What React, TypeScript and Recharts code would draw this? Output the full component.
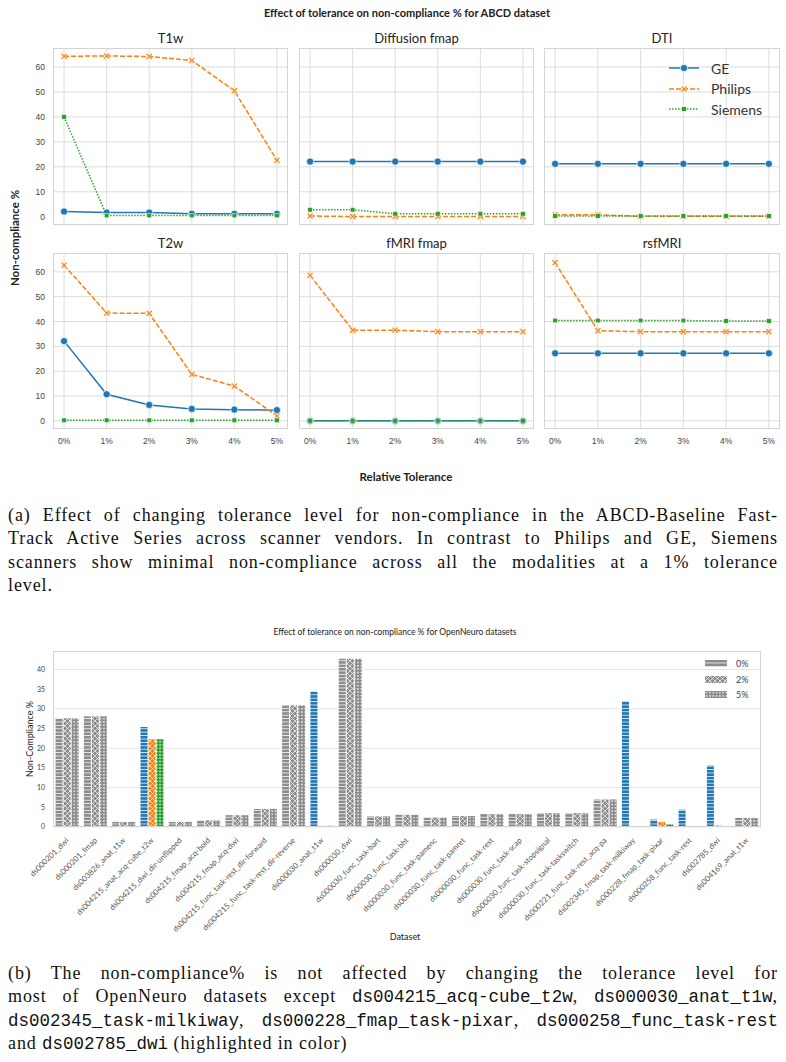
import React from 'react'
import { LineChart, Line, XAxis, YAxis, CartesianGrid, BarChart, Bar, Cell } from 'recharts'

// ---- top figure: ABCD dataset ----
const tolerances = [0, 1, 2, 3, 4, 5]
const toleranceLabels = ['0%', '1%', '2%', '3%', '4%', '5%']
const yTicksTop = [0, 10, 20, 30, 40, 50, 60]

const t1wGE = [2.1, 1.7, 1.7, 1.2, 1.2, 1.2]
const t1wPhilips = [64.3, 64.4, 64.2, 62.6, 50.5, 22.6]
const t1wSiemens = [40.0, 0.5, 0.5, 0.5, 0.5, 0.5]

const diffGE = [22.1, 22.1, 22.1, 22.1, 22.1, 22.1]
const diffPhilips = [0.3, 0.1, 0.1, 0.1, 0.1, 0.1]
const diffSiemens = [2.8, 2.8, 1.2, 1.2, 1.2, 1.2]

const dtiGE = [21.2, 21.2, 21.2, 21.2, 21.2, 21.2]
const dtiPhilips = [0.8, 0.8, 0.2, 0.2, 0.2, 0.2]
const dtiSiemens = [0.3, 0.3, 0.3, 0.3, 0.3, 0.3]

const t2wGE = [32.1, 10.7, 6.4, 4.8, 4.5, 4.3]
const t2wPhilips = [62.7, 43.4, 43.3, 18.7, 14.0, 2.0]
const t2wSiemens = [0.2, 0.2, 0.2, 0.2, 0.2, 0.2]

const fmriGE = [0, 0, 0, 0, 0, 0]
const fmriPhilips = [58.6, 36.5, 36.5, 35.9, 35.9, 35.9]
const fmriSiemens = [0, 0, 0, 0, 0, 0]

const rsGE = [27.2, 27.2, 27.2, 27.2, 27.2, 27.2]
const rsPhilips = [63.7, 36.3, 35.9, 35.9, 35.9, 35.9]
const rsSiemens = [40.4, 40.4, 40.4, 40.4, 40.2, 40.2]

// ---- bottom figure: OpenNeuro datasets ----
const datasets = [
  'ds000201_dwi',
  'ds000201_fmap',
  'ds003826_anat_t1w',
  'ds004215_anat_acq-cube_t2w',
  'ds004215_dwi_dir-unflipped',
  'ds004215_fmap_acq-bold',
  'ds004215_fmap_acq-dwi',
  'ds004215_func_task-rest_dir-forward',
  'ds004215_func_task-rest_dir-reverse',
  'ds000030_anat_t1w',
  'ds000030_dwi',
  'ds000030_func_task-bart',
  'ds000030_func_task-bht',
  'ds000030_func_task-pamenc',
  'ds000030_func_task-pamret',
  'ds000030_func_task-rest',
  'ds000030_func_task-scap',
  'ds000030_func_task-stopsignal',
  'ds000030_func_task-taskswitch',
  'ds000221_func_task-rest_acq-pa',
  'ds002345_fmap_task-milkiway',
  'ds000228_fmap_task-pixar',
  'ds000258_func_task-rest',
  'ds002785_dwi',
  'ds004169_anat_t1w',
]
const tol0 = [27.6, 28.1, 1.3, 25.4, 1.3, 1.7, 3.0, 4.6, 30.9, 34.5, 42.7, 2.7, 3.1, 2.4, 2.8, 3.3, 3.3, 3.5, 3.5, 7.0, 32.0, 1.9, 4.4, 15.6, 2.3]
const tol2 = [27.6, 28.1, 1.3, 22.3, 1.3, 1.7, 3.0, 4.6, 30.9, 0.3, 42.7, 2.7, 3.1, 2.4, 2.8, 3.3, 3.3, 3.5, 3.5, 7.0, 0, 1.3, 0, 0.4, 2.3]
const tol5 = [27.6, 28.1, 1.3, 22.3, 1.3, 1.7, 3.0, 4.6, 30.9, 0.3, 42.7, 2.7, 3.1, 2.4, 2.8, 3.3, 3.3, 3.5, 3.5, 7.0, 0, 0.7, 0, 0, 2.3]
const highlighted = [
  'ds004215_anat_acq-cube_t2w',
  'ds000030_anat_t1w',
  'ds002345_fmap_task-milkiway',
  'ds000228_fmap_task-pixar',
  'ds000258_func_task-rest',
  'ds002785_dwi',
]
const yTicksBottom = [0, 5, 10, 15, 20, 25, 30, 35, 40]

const BLUE = '#1f77b4'
const ORANGE = '#ff7f0e'
const GREEN = '#2ca02c'
const GREY = '#8c8c8c'
const GRID = '#dcdcdc'
const LATO = 'Lato, "Open Sans", sans-serif'
const SANS = '"Liberation Sans", Arial, sans-serif'

const colLefts = [53, 299, 544]
const colWidths = [235, 235, 236]
const rowTops = [48, 253]
const rowHeights = [177, 176]

const panels = [
  { title: 'T1w', ge: t1wGE, philips: t1wPhilips, siemens: t1wSiemens },
  { title: 'Diffusion fmap', ge: diffGE, philips: diffPhilips, siemens: diffSiemens },
  { title: 'DTI', ge: dtiGE, philips: dtiPhilips, siemens: dtiSiemens },
  { title: 'T2w', ge: t2wGE, philips: t2wPhilips, siemens: t2wSiemens },
  { title: 'fMRI fmap', ge: fmriGE, philips: fmriPhilips, siemens: fmriSiemens },
  { title: 'rsfMRI', ge: rsGE, philips: rsPhilips, siemens: rsSiemens },
]

// markers like seaborn's o / X / s
const xPath = (cx: number, cy: number, s: number, w: number) =>
  `M${cx - s},${cy - s + w} L${cx - s + w},${cy - s} L${cx},${cy - w} L${cx + s - w},${cy - s} L${cx + s},${cy - s + w} L${cx + w},${cy} ` +
  `L${cx + s},${cy + s - w} L${cx + s - w},${cy + s} L${cx},${cy + w} L${cx - s + w},${cy + s} L${cx - s},${cy + s - w} L${cx - w},${cy} Z`

const CircleDot = (props: any) => {
  const { cx, cy, index } = props
  if (cx == null || cy == null) return <g key={index} />
  return <circle key={index} cx={cx} cy={cy} r={3.6} fill={BLUE} stroke="#fff" strokeWidth={0.7} />
}
const CrossDot = (props: any) => {
  const { cx, cy, index } = props
  if (cx == null || cy == null) return <g key={index} />
  return <path key={index} d={xPath(cx, cy, 3.2, 1.1)} fill={ORANGE} stroke="#fff" strokeWidth={0.5} />
}
const SquareDot = (props: any) => {
  const { cx, cy, index } = props
  if (cx == null || cy == null) return <g key={index} />
  return <rect key={index} x={cx - 2.3} y={cy - 2.3} width={4.6} height={4.6} fill={GREEN} stroke="#fff" strokeWidth={0.5} />
}

const VendorLegend = () => {
  const rows = [
    { name: 'GE', color: BLUE, dash: undefined, marker: 'o' },
    { name: 'Philips', color: ORANGE, dash: '5 2', marker: 'x' },
    { name: 'Siemens', color: GREEN, dash: '1.5 1.5', marker: 's' },
  ]
  return (
    <div style={{ position: 'absolute', left: 668, top: 58 }}>
      {rows.map((r) => (
        <div key={r.name} style={{ display: 'flex', alignItems: 'center', height: 20.5 }}>
          <svg width={32} height={12}>
            <line x1={1} y1={6} x2={31} y2={6} stroke={r.color} strokeWidth={1.5} strokeDasharray={r.dash} />
            {r.marker === 'o' && <circle cx={16} cy={6} r={3.6} fill={r.color} stroke="#fff" strokeWidth={0.7} />}
            {r.marker === 'x' && <path d={xPath(16, 6, 3.2, 1.1)} fill={r.color} stroke="#fff" strokeWidth={0.5} />}
            {r.marker === 's' && <rect x={13.7} y={3.7} width={4.6} height={4.6} fill={r.color} stroke="#fff" strokeWidth={0.5} />}
          </svg>
          <span style={{ marginLeft: 11, fontFamily: LATO, fontSize: 14, color: '#333' }}>{r.name}</span>
        </div>
      ))}
    </div>
  )
}

function Panel({ index }: { index: number }) {
  const p = panels[index]
  const row = Math.floor(index / 3)
  const col = index % 3
  const data = tolerances.map((t, i) => ({ tol: t, GE: p.ge[i], Philips: p.philips[i], Siemens: p.siemens[i] }))
  const left = colLefts[col]
  const w = colWidths[col]
  const top = rowTops[row]
  const h = rowHeights[row]
  const yW = col === 0 ? 53 : 0
  const xH = row === 1 ? 24 : 0
  const tickStyle = { fontSize: 8.5, fill: '#444', fontFamily: SANS }
  return (
    <>
      <div
        style={{
          position: 'absolute', left, top: top - 18, width: w, textAlign: 'center',
          fontFamily: LATO, fontSize: 13, lineHeight: '16px', color: '#222',
        }}
      >
        {p.title}
      </div>
      <div style={{ position: 'absolute', left: left - yW, top }}>
        <LineChart width={w + yW} height={h + xH} data={data} margin={{ top: 0, right: 0, bottom: 0, left: 0 }}>
          <CartesianGrid stroke={GRID} strokeWidth={1} horizontalValues={yTicksTop} verticalValues={tolerances} />
          <XAxis
            type="number" dataKey="tol" domain={[-0.26, 5.26]} ticks={tolerances} allowDataOverflow
            tickFormatter={(v: number) => toleranceLabels[v]} hide={row === 0} height={xH}
            axisLine={false} tickLine={false} tickSize={0} tickMargin={9} tick={tickStyle}
          />
          <YAxis
            type="number" domain={[-3.3, 67.6]} ticks={yTicksTop} allowDataOverflow hide={col !== 0} width={53}
            axisLine={false} tickLine={false} tickSize={0} tickMargin={8} tick={tickStyle}
          />
          <Line dataKey="GE" stroke={BLUE} strokeWidth={1.5} dot={CircleDot} isAnimationActive={false} />
          <Line dataKey="Philips" stroke={ORANGE} strokeWidth={1.5} strokeDasharray="5 2" dot={CrossDot} isAnimationActive={false} />
          <Line dataKey="Siemens" stroke={GREEN} strokeWidth={1.5} strokeDasharray="1.5 1.5" dot={SquareDot} isAnimationActive={false} />
        </LineChart>
      </div>
      <div
        style={{
          position: 'absolute', left, top, width: w, height: h, boxSizing: 'border-box',
          border: '1.5px solid #d4d4d4', pointerEvents: 'none',
        }}
      />
    </>
  )
}

// hatch patterns: 0% -> horizontal lines, 2% -> cross, 5% -> dots
const Patterns = () => {
  const colours = [['grey', GREY], ['blue', BLUE], ['orange', ORANGE], ['green', GREEN]]
  return (
    <svg width={0} height={0} style={{ position: 'absolute' }}>
      <defs>
        {colours.map(([n, c]) => (
          <React.Fragment key={n}>
            <pattern id={`h-${n}`} width={4} height={3.4} patternUnits="userSpaceOnUse">
              <rect width={4} height={3.4} fill={c} />
              <line x1={0} y1={3} x2={4} y2={3} stroke="#fff" strokeWidth={0.8} />
            </pattern>
            <pattern id={`x-${n}`} width={5} height={5} patternUnits="userSpaceOnUse">
              <rect width={5} height={5} fill={c} />
              <path d="M0,0 L5,5 M5,0 L0,5" stroke="#fff" strokeWidth={0.7} />
            </pattern>
            <pattern id={`o-${n}`} width={3.3} height={3.3} patternUnits="userSpaceOnUse">
              <rect width={3.3} height={3.3} fill={c} />
              <circle cx={1.65} cy={1.65} r={0.75} fill="#fff" />
            </pattern>
          </React.Fragment>
        ))}
      </defs>
    </svg>
  )
}

const DatasetTick = (props: any) => {
  const { x, y, payload } = props
  return (
    <g transform={`translate(${x + 2},${y + 6})`}>
      <text x={0} y={0} textAnchor="end" transform="rotate(-45)" fontSize={7.8} fill="#555" fontFamily={LATO}>
        {payload.value}
      </text>
    </g>
  )
}

const ToleranceLegend = () => {
  const rows = [['0%', 'h'], ['2%', 'x'], ['5%', 'o']]
  return (
    <div style={{ position: 'absolute', left: 705, top: 656 }}>
      {rows.map(([label, p]) => (
        <div key={label} style={{ display: 'flex', alignItems: 'center', height: 15.5 }}>
          <svg width={22} height={7}>
            <rect width={22} height={7} fill={`url(#${p}-grey)`} />
          </svg>
          <span style={{ marginLeft: 9, fontFamily: LATO, fontSize: 9, color: '#444' }}>{label}</span>
        </div>
      ))}
    </div>
  )
}

const barData = datasets.map((name, i) => ({ name, t0: tol0[i], t2: tol2[i], t5: tol5[i] }))

function BottomChart() {
  return (
    <>
      <div style={{ position: 'absolute', left: 0, top: 626, width: 790, textAlign: 'center', fontFamily: LATO, fontSize: 8.5, lineHeight: '12px', color: '#222' }}>
        Effect of tolerance on non-compliance % for OpenNeuro datasets
      </div>
      <div style={{ position: 'absolute', left: 0, top: 651 }}>
        <BarChart
          width={786} height={296} data={barData}
          margin={{ top: 0, right: 25, bottom: 0, left: 0 }}
          barCategoryGap="9%" barGap={1}
        >
          <CartesianGrid stroke="#e6e6e6" vertical={false} horizontalValues={yTicksBottom} />
          <XAxis dataKey="name" interval={0} height={120} axisLine={false} tickLine={false} tick={<DatasetTick />} />
          <YAxis
            type="number" domain={[0, 44.7]} ticks={yTicksBottom} allowDataOverflow width={53}
            axisLine={false} tickLine={false} tickSize={0} tickMargin={8}
            tick={{ fontSize: 7, fill: '#444', fontFamily: LATO }}
          />
          <Bar dataKey="t0" isAnimationActive={false}>
            {barData.map((d) => (
              <Cell key={d.name} fill={highlighted.includes(d.name) ? 'url(#h-blue)' : 'url(#h-grey)'} />
            ))}
          </Bar>
          <Bar dataKey="t2" isAnimationActive={false}>
            {barData.map((d) => (
              <Cell key={d.name} fill={highlighted.includes(d.name) ? 'url(#x-orange)' : 'url(#x-grey)'} />
            ))}
          </Bar>
          <Bar dataKey="t5" isAnimationActive={false}>
            {barData.map((d) => (
              <Cell key={d.name} fill={highlighted.includes(d.name) ? 'url(#o-green)' : 'url(#o-grey)'} />
            ))}
          </Bar>
        </BarChart>
      </div>
      <ToleranceLegend />
      <div style={{ position: 'absolute', left: 53, top: 651, width: 708, height: 176, boxSizing: 'border-box', border: '1px solid #d4d4d4', pointerEvents: 'none' }} />
      <div
        style={{
          position: 'absolute', left: 29, top: 739, transform: 'translate(-50%, -50%) rotate(-90deg)',
          whiteSpace: 'nowrap', fontFamily: LATO, fontSize: 9, color: '#222',
        }}
      >
        Non-Compliance %
      </div>
      <div style={{ position: 'absolute', left: 0, top: 931, width: 810, textAlign: 'center', fontFamily: LATO, fontSize: 9, lineHeight: '12px', color: '#222' }}>
        Dataset
      </div>
    </>
  )
}

const serif = '"Liberation Serif", "Times New Roman", serif'
const mono = '"Liberation Mono", "DejaVu Sans Mono", monospace'

const captionLine = (last: boolean): React.CSSProperties => ({
  height: 23.3, lineHeight: '23.3px', textAlign: 'justify', textAlignLast: last ? 'left' : 'justify', whiteSpace: 'nowrap',
})
const tt: React.CSSProperties = { fontFamily: mono, fontSize: 17.5, letterSpacing: 0 }

export default function App() {
  return (
    <div style={{ position: 'absolute', left: 0, top: 0, width: 786, height: 1062, background: '#fff', overflow: 'hidden' }}>
      <Patterns />
      <div style={{ position: 'absolute', left: 0, top: 6, width: 814, textAlign: 'center', fontFamily: LATO, fontWeight: 700, fontSize: 11, lineHeight: '14px', color: '#222' }}>
        Effect of tolerance on non-compliance % for ABCD dataset
      </div>
      {panels.map((_, i) => (
        <Panel key={i} index={i} />
      ))}
      <VendorLegend />
      <div
        style={{
          position: 'absolute', left: 14, top: 238, transform: 'translate(-50%, -50%) rotate(-90deg)',
          whiteSpace: 'nowrap', fontFamily: LATO, fontWeight: 700, fontSize: 11.5, color: '#222',
        }}
      >
        Non-compliance %
      </div>
      <div style={{ position: 'absolute', left: 0, top: 470, width: 812, textAlign: 'center', fontFamily: LATO, fontWeight: 700, fontSize: 11.5, lineHeight: '14px', color: '#222' }}>
        Relative Tolerance
      </div>

      <div style={{ position: 'absolute', left: 8, top: 504, width: 770, fontFamily: serif, fontSize: 18, letterSpacing: 0.9, color: '#111' }}>
        <div style={captionLine(false)}>(a) Effect of changing tolerance level for non-compliance in the ABCD-Baseline Fast-</div>
        <div style={captionLine(false)}>Track Active Series across scanner vendors. In contrast to Philips and GE, Siemens</div>
        <div style={captionLine(false)}>scanners show minimal non-compliance across all the modalities at a 1% tolerance</div>
        <div style={captionLine(true)}>level.</div>
      </div>

      <BottomChart />

      <div style={{ position: 'absolute', left: 8, top: 962, width: 770, fontFamily: serif, fontSize: 18, letterSpacing: 0.9, color: '#111' }}>
        <div style={captionLine(false)}>(b) The non-compliance% is not affected by changing the tolerance level for</div>
        <div style={captionLine(false)}>
          most of OpenNeuro datasets except <span style={tt}>ds004215_acq-cube_t2w</span>,{' '}
          <span style={tt}>ds000030_anat_t1w</span>,
        </div>
        <div style={captionLine(false)}>
          <span style={tt}>ds002345_task-milkiway</span>, <span style={tt}>ds000228_fmap_task-pixar</span>,{' '}
          <span style={tt}>ds000258_func_task-rest</span>
        </div>
        <div style={captionLine(true)}>
          and <span style={tt}>ds002785_dwi</span> (highlighted in color)
        </div>
      </div>
    </div>
  )
}
